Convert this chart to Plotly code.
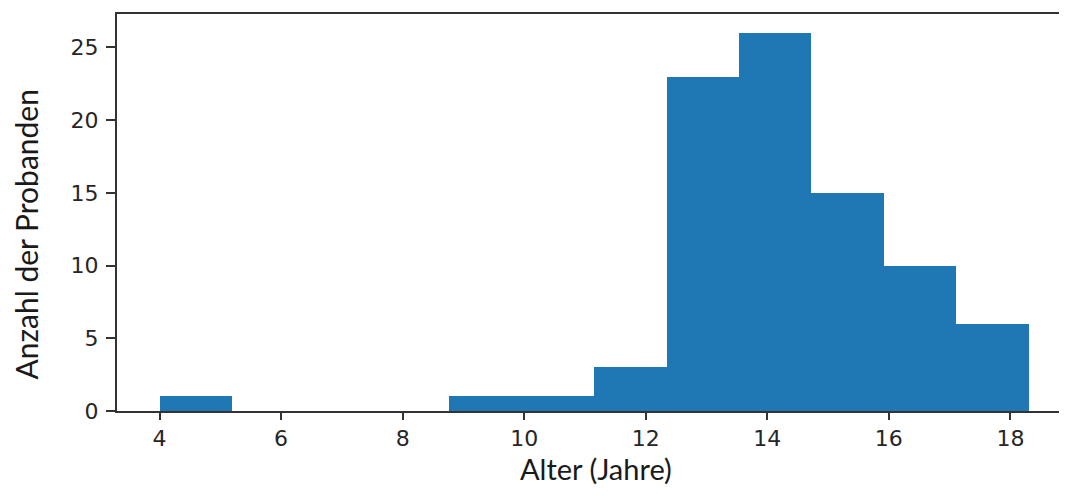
import numpy as np
import plotly.graph_objects as go

# Histogram data
bin_start = 4.0
bin_end = 18.3
counts = [1, 0, 0, 0, 1, 1, 3, 23, 26, 15, 10, 6]
x_ticks = [4, 6, 8, 10, 12, 14, 16, 18]
y_ticks = [0, 5, 10, 15, 20, 25]
x_title = "Alter (Jahre)"
y_title = "Anzahl der Probanden"

edges = np.linspace(bin_start, bin_end, len(counts) + 1)
widths = np.diff(edges)

fig = go.Figure(
    go.Bar(
        x=edges[:-1],
        y=counts,
        width=widths,
        offset=0,
        marker=dict(color="#1f77b4", line=dict(width=0)),
        hoverinfo="x+y",
    )
)

tick_font = dict(family="DejaVu Sans", size=22, color="#262626")
title_font_x = dict(family="Lato", size=29, color="#1a1a1a")
title_font_y = dict(family="Lato", size=30, color="#1a1a1a")

# page body has an 8px default margin; figure sized to fit the window
fig.update_layout(
    width=1051,
    height=479,
    margin=dict(l=109, r=0, t=6, b=76),
    paper_bgcolor="white",
    plot_bgcolor="white",
    showlegend=False,
    bargap=0,
    annotations=[
        dict(
            text=x_title, xref="paper", yref="paper", x=0.509, y=0,
            xanchor="center", yanchor="bottom", yshift=-76, borderpad=0,
            showarrow=False, font=title_font_x,
        ),
        dict(
            text=y_title, xref="paper", yref="paper", x=0, y=0.5,
            xanchor="center", yanchor="middle", xshift=-92, yshift=-22,
            textangle=-90, showarrow=False, font=title_font_y,
        ),
    ],
)

fig.update_xaxes(
    range=[3.30, 18.80],
    tickvals=x_ticks,
    ticktext=[str(v) for v in x_ticks],
    ticks="outside",
    ticklen=7,
    tickwidth=2,
    tickcolor="#333333",
    showline=True,
    linecolor="#333333",
    linewidth=2,
    mirror=True,
    showgrid=False,
    zeroline=False,
    tickfont=tick_font,
    ticklabelstandoff=0,
)

fig.update_yaxes(
    range=[0, 27.3],
    tickvals=y_ticks,
    ticktext=[str(v) for v in y_ticks],
    ticks="outside",
    ticklen=9,
    tickwidth=2,
    tickcolor="#333333",
    showline=True,
    linecolor="#333333",
    linewidth=2,
    showgrid=False,
    zeroline=False,
    tickfont=tick_font,
    ticklabelstandoff=3,
)

fig.write_html("out.html")
